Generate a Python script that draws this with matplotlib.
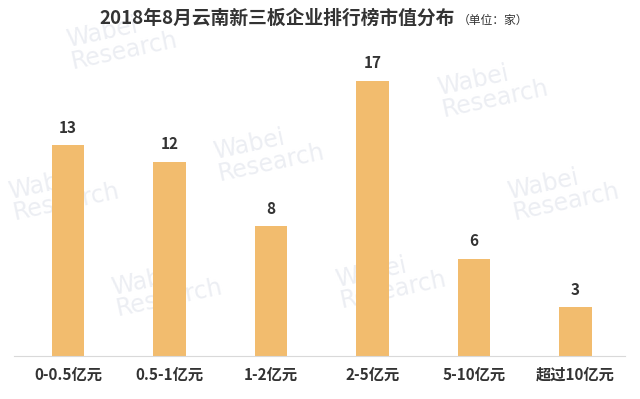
import matplotlib
matplotlib.use("Agg")
import matplotlib.pyplot as plt

plt.rcParams["font.family"] = ["Noto Sans CJK SC", "DejaVu Sans"]

categories = ["0-0.5亿元", "0.5-1亿元", "1-2亿元", "2-5亿元", "5-10亿元", "超过10亿元"]
counts = [13, 12, 8, 17, 6, 3]

title = "2018年8月云南新三板企业排行榜市值分布"
unit = "（单位：家）"

bar_color = "#F2BC6E"
text_color = "#333333"


def main():
    fig = plt.figure(figsize=(6.4, 3.99), dpi=100)
    ax = fig.add_axes([0.022, 0.1078, 0.955, 0.812])

    # faint watermarks, drawn behind the axes
    marks = [(0.10, 0.90), (0.68, 0.78), (0.33, 0.62),
             (0.79, 0.52), (0.01, 0.52), (0.17, 0.28), (0.52, 0.3)]
    for mx, my in marks:
        fig.text(mx, my, "Wabei\nResearch", color="#eceef3", fontsize=17,
                 family="DejaVu Sans", ha="left", va="center",
                 rotation=12, linespacing=0.9, zorder=-1)

    x = range(len(categories))
    ax.bar(x, counts, width=0.32, color=bar_color, zorder=2)
    for i, v in zip(x, counts):
        ax.text(i, v + 0.6, str(v), ha="center", va="bottom",
                fontsize=11, fontweight="bold", color=text_color)

    ax.set_xlim(-0.53, 5.49)
    ax.set_ylim(0, 20)
    ax.set_xticks(list(x))
    ax.set_xticklabels(categories, fontsize=11, fontweight="bold", color=text_color)
    ax.tick_params(axis="x", length=0, pad=8)
    ax.set_yticks([])
    for side in ["top", "right", "left"]:
        ax.spines[side].set_visible(False)
    ax.spines["bottom"].set_color("#d9d9d9")
    ax.patch.set_alpha(0)

    fig.text(0.433, 0.953, title, ha="center", va="center",
             fontsize=13.5, fontweight="bold", color=text_color)
    fig.text(0.715, 0.948, unit, ha="left", va="center",
             fontsize=8.5, color=text_color)

    fig.savefig("out.png", dpi=100)


if __name__ == "__main__":
    main()
